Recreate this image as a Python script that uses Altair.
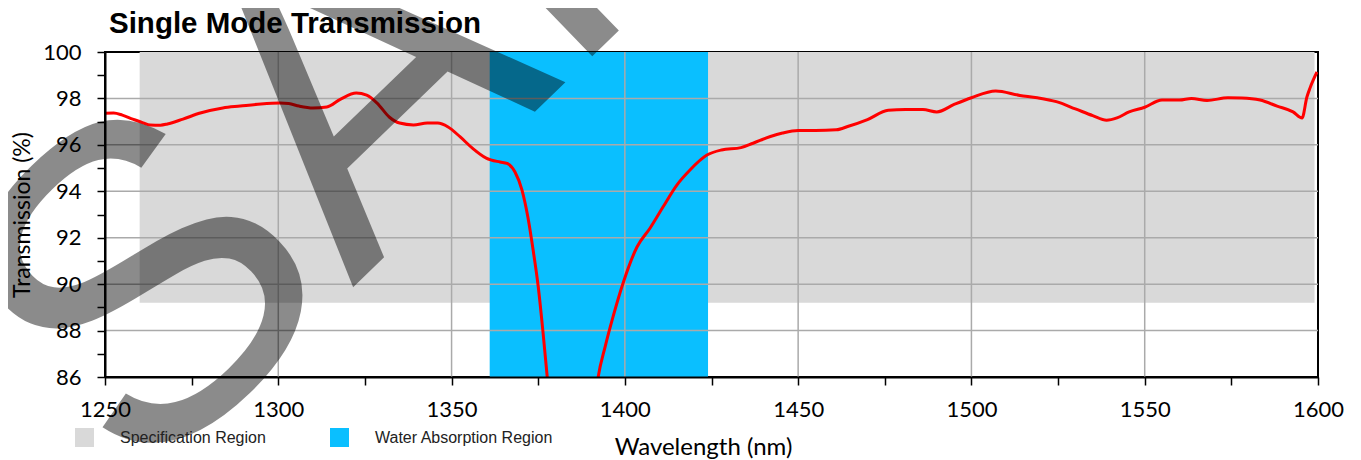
import altair as alt
import pandas as pd

# ---- data ----
wavelength = [1250, 1252.5, 1255, 1258, 1261, 1263, 1266, 1268, 1272.5, 1277.5, 1284, 1289, 1295,
              1300.5, 1303, 1306, 1310, 1314, 1318, 1322.5, 1325.5, 1328.5, 1332, 1335, 1339, 1343,
              1346, 1349, 1352.5, 1356, 1360, 1364, 1366, 1368.3, 1370.3, 1372, 1373.5, 1375, 1376.4,
              1377.6, 1379, 1383, 1388, 1391, 1392.3, 1394.3, 1396.6, 1399.5, 1403.5, 1407.3, 1411,
              1415, 1418.8, 1423.7, 1427.9, 1433.5, 1437, 1442, 1445.5, 1450, 1455, 1461, 1464.5,
              1470, 1476, 1481, 1486, 1490, 1495, 1500, 1507, 1514, 1519, 1524.5, 1530, 1535, 1539,
              1542, 1545.5, 1550, 1555, 1560, 1563.5, 1568, 1574, 1578, 1583.3, 1588.2, 1592.8,
              1595.4, 1596.8, 1597.7, 1599.7]
transmission = [97.36, 97.37, 97.28, 97.11, 96.95, 96.86, 96.85, 96.90, 97.11, 97.37, 97.59, 97.67, 97.76,
                97.80, 97.78, 97.67, 97.59, 97.63, 97.97, 98.23, 98.14, 97.80, 97.20, 96.94, 96.86, 96.94,
                96.94, 96.77, 96.34, 95.86, 95.43, 95.26, 95.20, 94.83, 94.06, 92.90, 91.50, 89.90, 87.90,
                86.00, 84.00, 82.00, 82.50, 84.50, 86.00, 87.30, 88.60, 90.05, 91.60, 92.42, 93.32,
                94.27, 94.92, 95.56, 95.78, 95.88, 96.07, 96.36, 96.51, 96.62, 96.62, 96.65, 96.80,
                97.09, 97.49, 97.52, 97.52, 97.42, 97.74, 98.03, 98.32, 98.13, 98.03, 97.86, 97.55, 97.26, 97.06,
                97.16, 97.42, 97.62, 97.93, 97.93, 98.00, 97.91, 98.03, 98.02, 97.93, 97.67, 97.42,
                97.16, 98.06, 98.45, 99.14]

region_names = ["Specification Region", "Water Absorption Region"]
region_x1 = [1260, 1361]
region_x2 = [1599, 1424]
region_y1 = [89.2, 86]
region_y2 = [100, 100]
region_colors = ["#d9d9d9", "#0abfff"]

x_ticks = list(range(1250, 1601, 25))
y_ticks = list(range(86, 101, 1))
x_grid = [1300, 1350, 1400, 1450, 1500, 1550]
y_grid = [88, 90, 92, 94, 96, 98]

TITLE = "Single Mode Transmission"
X_TITLE = "Wavelength (nm)"
Y_TITLE = "Transmission (%)"
WATERMARK = "SAMPLE"

# ---- tables ----
curve = pd.DataFrame({"w": wavelength, "t": transmission})
regions = pd.DataFrame({"name": region_names, "x1": region_x1, "x2": region_x2,
                        "y1": region_y1, "y2": region_y2})
xg = pd.DataFrame({"v": x_grid})
yg = pd.DataFrame({"v": y_grid})

xscale = alt.Scale(domain=[1250, 1600], nice=False, zero=False)
yscale = alt.Scale(domain=[86, 100], nice=False, zero=False)

common_axis = dict(grid=False, tickColor="black", tickWidth=1.5, tickSize=8,
                   domainColor="black", domainWidth=2, labelColor="black",
                   labelFont="Lato", labelFontSize=22, labelFlush=False,
                   labelOverlap=False, titleFont="Lato",
                   titleFontWeight="normal", titleColor="black", zindex=1, format="d")

xaxis = alt.Axis(values=x_ticks, labelExpr="datum.value % 50 === 0 ? datum.label : ''",
                 labelPadding=14, title=X_TITLE, titleX=598, titleY=77, titleFontSize=24,
                 titleAlign="center", titleBaseline="alphabetic", **common_axis)
yaxis = alt.Axis(values=y_ticks, labelExpr="datum.value % 2 === 0 ? datum.label : ''",
                 labelPadding=16, title=Y_TITLE, titleX=-76, titleY=162.5, titleAngle=270,
                 titleFontSize=23, titleAlign="center", titleBaseline="alphabetic",
                 **common_axis)

rects = alt.Chart(regions).mark_rect().encode(
    x=alt.X("x1:Q", scale=xscale, axis=xaxis, title=X_TITLE),
    x2="x2:Q",
    y=alt.Y("y1:Q", scale=yscale, axis=yaxis, title=Y_TITLE),
    y2="y2:Q",
    color=alt.Color("name:N", scale=alt.Scale(domain=region_names, range=region_colors),
                    legend=alt.Legend(orient="none", legendX=-30, legendY=376,
                                      direction="horizontal", title=None, padding=0,
                                      symbolType="square", symbolSize=361,
                                      symbolStrokeWidth=0, symbolOpacity=1,
                                      labelFont="Liberation Sans", labelFontSize=16,
                                      labelColor="#222222", labelOffset=26,
                                      labelLimit=0, columnPadding=64)),
)

vgrid = alt.Chart(xg).mark_rule(color="#aaaaaa", strokeWidth=1.5).encode(
    x=alt.X("v:Q", scale=xscale, axis=xaxis, title=X_TITLE))
hgrid = alt.Chart(yg).mark_rule(color="#aaaaaa", strokeWidth=1.5).encode(
    y=alt.Y("v:Q", scale=yscale, axis=yaxis, title=Y_TITLE))

line = alt.Chart(curve).mark_line(color="#ff0000", strokeWidth=3, clip=True,
                                  interpolate="monotone").encode(
    x=alt.X("w:Q", scale=xscale, axis=xaxis, title=X_TITLE),
    y=alt.Y("t:Q", scale=yscale, axis=yaxis, title=Y_TITLE),
)

watermark = alt.Chart(pd.DataFrame({"t": [WATERMARK]})).mark_text(
    align="left", baseline="alphabetic", angle=316, font="Liberation Sans",
    fontSize=445, color="black", opacity=0.45).encode(
    x=alt.value(34), y=alt.value(442), text="t:N")

title = alt.Chart(pd.DataFrame({"t": [TITLE]})).mark_text(
    align="left", baseline="alphabetic", font="Liberation Sans", fontWeight="bold",
    fontSize=29.5, color="black").encode(
    x=alt.value(4), y=alt.value(-19), text="t:N")

chart = alt.layer(rects, vgrid, hgrid, line, watermark, title).properties(
    width=1213, height=325,
    autosize=alt.AutoSizeParams(type="none"),
    padding={"left": 97, "top": 44, "right": 35, "bottom": 83},
).configure_view(stroke="black", strokeWidth=2)

chart.save("out.html", embed_options={"renderer": "svg", "actions": False})
